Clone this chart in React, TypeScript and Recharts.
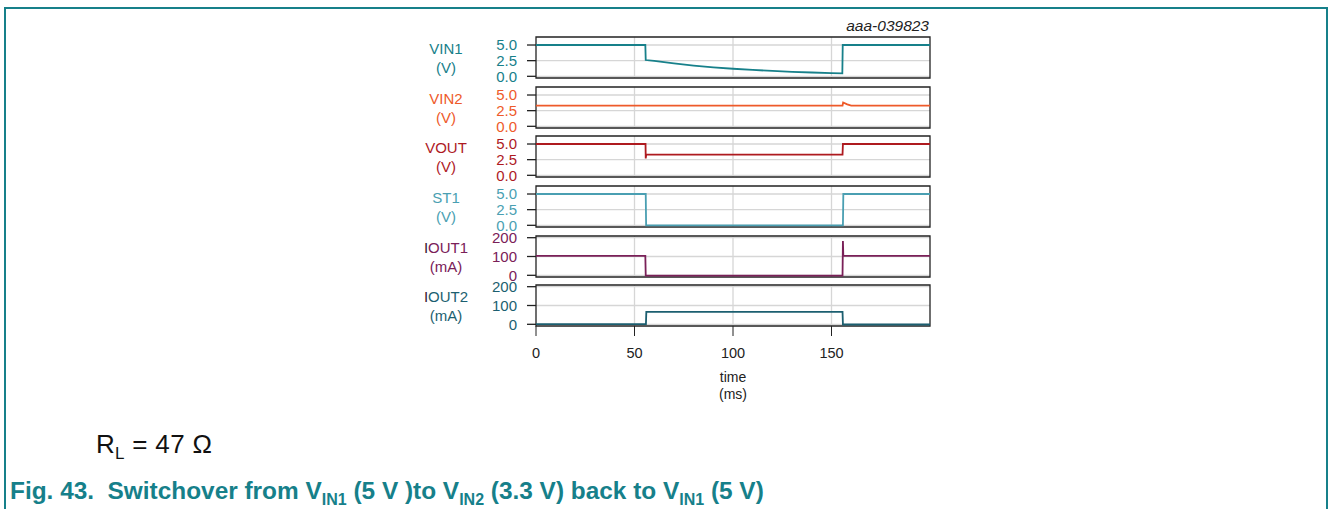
import { LineChart, Line, XAxis, YAxis, CartesianGrid, ReferenceArea } from 'recharts'

const timeTicks = [0, 50, 100, 150]
const voltTicks = [0, 2.5, 5]
const currTicks = [0, 100, 200]

// traces (time in ms)
const vin1Time = [0, 55.5, 55.7, 60, 70, 80, 90, 100, 110, 120, 130, 140, 150, 155.5, 155.7, 200]
const vin1Volt = [5.0, 5.0, 2.6, 2.45, 2.05, 1.72, 1.44, 1.21, 1.02, 0.86, 0.72, 0.61, 0.51, 0.48, 5.0, 5.0]

const vin2Time = [0, 155.6, 155.9, 158, 160, 200]
const vin2Volt = [3.3, 3.3, 3.8, 3.5, 3.3, 3.3]

const voutTime = [0, 55.6, 55.7, 55.9, 56.1, 155.6, 155.8, 200]
const voutVolt = [5.0, 5.0, 2.7, 3.2, 3.3, 3.3, 5.0, 5.0]

const st1Time = [0, 55.7, 55.9, 155.8, 156.0, 200]
const st1Volt = [5.0, 5.0, 0, 0, 5.0, 5.0]

const iout1Time = [0, 55.5, 55.7, 155.6, 155.8, 156.0, 200]
const iout1Curr = [103, 103, -2, -2, 182, 103, 103]

const iout2Time = [0, 55.8, 56.0, 155.6, 155.8, 200]
const iout2Curr = [1, 1, 66, 66, -1, -1]

const voltDomain: [number, number] = [-0.27, 6.28]
const currDomain: [number, number] = [-9, 209]

interface Panel {
  name: string
  unit: string
  color: string
  t: number[]
  v: number[]
  ticks: number[]
  domain: [number, number]
  digits: number
  top: number
  darkI?: boolean
}

const panels: Panel[] = [
  { name: 'VIN1', unit: '(V)', color: '#17808a', t: vin1Time, v: vin1Volt, ticks: voltTicks, domain: voltDomain, digits: 1, top: 37 },
  { name: 'VIN2', unit: '(V)', color: '#ee5a2a', t: vin2Time, v: vin2Volt, ticks: voltTicks, domain: voltDomain, digits: 1, top: 87 },
  { name: 'VOUT', unit: '(V)', color: '#ae1a1f', t: voutTime, v: voutVolt, ticks: voltTicks, domain: voltDomain, digits: 1, top: 136 },
  { name: 'ST1', unit: '(V)', color: '#4a9fb2', t: st1Time, v: st1Volt, ticks: voltTicks, domain: voltDomain, digits: 1, top: 186 },
  { name: 'IOUT1', unit: '(mA)', color: '#7a2058', t: iout1Time, v: iout1Curr, ticks: currTicks, domain: currDomain, digits: 0, top: 236, darkI: true },
  { name: 'IOUT2', unit: '(mA)', color: '#1c5f70', t: iout2Time, v: iout2Curr, ticks: currTicks, domain: currDomain, digits: 0, top: 285, darkI: true },
]

const FONT = '"Liberation Sans", Arial, sans-serif'
const TEAL = '#16808a'
const PANEL_H = 41
const AXIS_W = 130
const PLOT_W = 394
const PAD = 12
const LEFT = 536 - AXIS_W

function seriesLabel(p: Panel) {
  return (props: any) => {
    const vb = props.viewBox
    const cx = vb.x + 40
    return (
      <g fontFamily={FONT} fontSize={15} fill={p.color} textAnchor="middle">
        <text x={cx} y={vb.y + 11} dominantBaseline="central">
          {p.darkI ? (
            <>
              <tspan fill="#3a2030">I</tspan>
              {p.name.slice(1)}
            </>
          ) : p.name}
        </text>
        <text x={cx} y={vb.y + 30} dominantBaseline="central">{p.unit}</text>
      </g>
    )
  }
}

function timeLabel(props: any) {
  const vb = props.viewBox
  const cx = vb.x + vb.width / 2
  return (
    <g fontFamily={FONT} fontSize={14} fill="#222" textAnchor="middle">
      <text x={cx} y={vb.y + 51} dominantBaseline="central">time</text>
      <text x={cx} y={vb.y + 68} dominantBaseline="central">(ms)</text>
    </g>
  )
}

function PanelChart({ p, last }: { p: Panel; last: boolean }) {
  const data = p.t.map((t, i) => ({ t, v: p.v[i] }))
  const axisH = last ? 75 : 0
  return (
    <div style={{ position: 'absolute', left: LEFT, top: p.top - PAD }}>
      <LineChart
        width={AXIS_W + PLOT_W + 4}
        height={PANEL_H + axisH + 2 * PAD}
        data={data}
        margin={{ top: PAD, right: 4, bottom: PAD, left: 0 }}
      >
        <CartesianGrid
          stroke="#d6d6d6"
          strokeWidth={1.3}
          horizontalValues={p.ticks}
          verticalValues={[50, 100, 150]}
        />
        <XAxis
          dataKey="t"
          type="number"
          domain={[0, 200]}
          ticks={timeTicks}
          hide={!last}
          height={axisH || undefined}
          axisLine={false}
          tickLine={{ stroke: '#222' }}
          tickSize={10}
          tickMargin={12}
          tick={{ fill: '#222', fontSize: 14.5, fontFamily: FONT }}
          label={last ? { content: timeLabel } : undefined}
        />
        <YAxis
          type="number"
          domain={p.domain}
          ticks={p.ticks}
          width={AXIS_W}
          axisLine={false}
          tickLine={{ stroke: '#222', strokeWidth: 1.3 }}
          tickSize={9}
          tickMargin={10}
          interval={0}
          tickFormatter={(v: number) => v.toFixed(p.digits)}
          tick={{ fill: p.color, fontSize: 15, fontFamily: FONT }}
          label={{ content: seriesLabel(p) }}
        />
        <Line
          type="linear"
          dataKey="v"
          stroke={p.color}
          strokeWidth={1.8}
          dot={false}
          isAnimationActive={false}
        />
        <ReferenceArea
          x1={0}
          x2={200}
          y1={p.domain[0]}
          y2={p.domain[1]}
          fill="none"
          fillOpacity={0}
          stroke="#222"
          strokeWidth={1.3}
        />
      </LineChart>
    </div>
  )
}

export default function App() {
  return (
    <div style={{ position: 'absolute', left: 0, top: 0, width: 1328, height: 509, background: '#fff', overflow: 'hidden', fontFamily: FONT }}>
      <div
        style={{
          position: 'absolute', left: 4, top: 7, width: 1320, height: 520,
          borderTop: `2px solid ${TEAL}`, borderLeft: `2px solid ${TEAL}`, borderRight: `2px solid ${TEAL}`,
        }}
      />
      <div style={{ position: 'absolute', right: 1328 - 929, top: 17, fontSize: 15.5, fontStyle: 'italic', color: '#222' }}>
        aaa-039823
      </div>
      {panels.map((p, i) => (
        <PanelChart key={p.name} p={p} last={i === panels.length - 1} />
      ))}
      <div style={{ position: 'absolute', left: 96, top: 429, fontSize: 26, color: '#111', whiteSpace: 'nowrap', letterSpacing: 0.3 }}>
        R<sub style={{ fontSize: 17 }}>L</sub> = 47 Ω
      </div>
      <div style={{ position: 'absolute', left: 10, top: 477, fontSize: 24.4, fontWeight: 'bold', color: TEAL, whiteSpace: 'nowrap' }}>
        Fig. 43.&nbsp;&nbsp;Switchover from V<sub style={{ fontSize: 16 }}>IN1</sub> (5 V )to V<sub style={{ fontSize: 16 }}>IN2</sub> (3.3 V) back to V<sub style={{ fontSize: 16 }}>IN1</sub> (5 V)
      </div>
    </div>
  )
}
